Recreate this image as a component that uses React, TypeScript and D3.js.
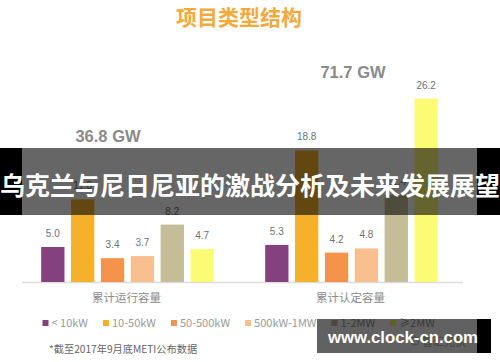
import React, { useEffect, useRef } from "react";
import * as d3 from "d3";

const groups = ["累计运行容量", "累计认定容量"];
const groupTotals = ["36.8 GW", "71.7 GW"];
const seriesNames = ["< 10kW", "10-50kW", "50-500kW", "500kW-1MW", "1-2MW", "≥2MW"];
const seriesColors = ["#85417f", "#f6b12c", "#f6934a", "#f8c08f", "#c4bd98", "#fcfb74"];
const runningValues = [5.0, 11.8, 3.4, 3.7, 8.2, 4.7];
const certifiedValues = [5.3, 18.8, 4.2, 4.8, 12.4, 26.2];
const titleText = "项目类型结构";
const bannerText = "乌克兰与尼日尼亚的激战分析及未来发展展望";
const footnoteText = "*截至2017年9月底METI公布数据";
const watermarkText = "www.clock-cn.com";
const watermarkSub = "智汇光伏";

const W = 500;
const H = 362;
const CJK = "'Noto Sans CJK SC', 'Noto Sans', sans-serif";
const LAT = "'Liberation Sans', Arial, 'Noto Sans CJK SC', sans-serif";

export default function App() {
  const ref = useRef<SVGSVGElement | null>(null);

  useEffect(() => {
    const svg = d3.select(ref.current);
    svg.selectAll("*").remove();

    svg.append("rect").attr("width", W).attr("height", H).attr("fill", "#ffffff");

    // title
    svg.append("text")
      .attr("x", 239).attr("y", 24.5)
      .attr("text-anchor", "middle")
      .attr("font-family", CJK).attr("font-weight", 700).attr("font-size", 21)
      .attr("fill", "#f2aa3c")
      .text(titleText);

    const baseY = 282;
    const y = d3.scaleLinear().domain([0, 30]).range([baseY, baseY - 210]);
    const x0 = d3.scaleBand<string>().domain(groups).range([15.5, 463.5]).paddingInner(0.2).paddingOuter(0.1);
    const x1 = d3.scaleBand<string>().domain(seriesNames).range([0, x0.bandwidth()]).paddingInner(0.22).paddingOuter(0.11);

    const allValues = [runningValues, certifiedValues];

    // axis line
    svg.append("line")
      .attr("x1", 22).attr("x2", 463).attr("y1", baseY + 0.5).attr("y2", baseY + 0.5)
      .attr("stroke", "#dcdcdc").attr("stroke-width", 1.5);

    groups.forEach((g, gi) => {
      const gx = x0(g)!;
      const grp = svg.append("g").attr("transform", `translate(${gx},0)`);
      seriesNames.forEach((s, si) => {
        const v = allValues[gi][si];
        grp.append("rect")
          .attr("x", x1(s)!).attr("width", x1.bandwidth())
          .attr("y", y(v)).attr("height", baseY - y(v))
          .attr("fill", seriesColors[si]);
        grp.append("text")
          .attr("x", x1(s)! + x1.bandwidth() / 2).attr("y", y(v) - 10)
          .attr("text-anchor", "middle")
          .attr("font-family", LAT).attr("font-size", 10)
          .attr("fill", "#707070")
          .text(v.toFixed(1));
      });
      svg.append("text")
        .attr("x", gx + x0.bandwidth() / 2 - 1).attr("y", 302)
        .attr("text-anchor", "middle")
        .attr("font-family", CJK).attr("font-size", 11.5)
        .attr("fill", "#8c8c8c")
        .text(g);
    });

    // group totals
    svg.append("text")
      .attr("x", 108).attr("y", 141.5)
      .attr("text-anchor", "middle")
      .attr("font-family", LAT).attr("font-weight", 700).attr("font-size", 16.5)
      .attr("fill", "#8a8a8a")
      .text(groupTotals[0]);
    svg.append("text")
      .attr("x", 353).attr("y", 77.5)
      .attr("text-anchor", "middle")
      .attr("font-family", LAT).attr("font-weight", 700).attr("font-size", 16.5)
      .attr("fill", "#8a8a8a")
      .text(groupTotals[1]);

    // legend
    const legend = svg.append("g");
    let lx = 42.5;
    seriesNames.forEach((s, si) => {
      legend.append("rect")
        .attr("x", lx).attr("y", 320).attr("width", 6).attr("height", 6)
        .attr("fill", seriesColors[si]);
      const t = legend.append("text")
        .attr("x", lx + 9).attr("y", 327)
        .attr("font-family", CJK).attr("font-size", 11)
        .attr("fill", "#9a9a9a")
        .text(s);
      const tw = (t.node() as SVGTextElement).getComputedTextLength();
      lx = lx + 9 + tw + 15;
    });

    // footnote
    svg.append("text")
      .attr("x", 49).attr("y", 353)
      .attr("font-family", CJK).attr("font-size", 10.2)
      .attr("fill", "#666666")
      .text(footnoteText);

    // faint account mark under watermark
    svg.append("circle").attr("cx", 415).attr("cy", 341).attr("r", 4)
      .attr("fill", "none").attr("stroke", "#bbbbbb").attr("stroke-width", 1);
    svg.append("text")
      .attr("x", 422).attr("y", 346)
      .attr("font-family", CJK).attr("font-size", 11)
      .attr("fill", "#b0b0b0")
      .text(watermarkSub);

    // banner overlay
    svg.append("rect").attr("x", 0).attr("y", 148).attr("width", 22).attr("height", 67).attr("fill", "#000");
    svg.append("rect").attr("x", 477).attr("y", 148).attr("width", 23).attr("height", 67).attr("fill", "#000");
    svg.append("rect").attr("x", 22).attr("y", 148).attr("width", 455).attr("height", 67)
      .attr("fill", "#000").attr("fill-opacity", 0.6);
    svg.append("text")
      .attr("x", 250).attr("y", 194.5)
      .attr("text-anchor", "middle")
      .attr("font-family", CJK).attr("font-weight", 700).attr("font-size", 25)
      .attr("textLength", 500).attr("lengthAdjust", "spacingAndGlyphs")
      .attr("fill", "#ffffff")
      .text(bannerText);

    // watermark
    svg.append("rect").attr("x", 317).attr("y", 319).attr("width", 160).attr("height", 34)
      .attr("fill", "#000").attr("fill-opacity", 0.62);
    svg.append("rect").attr("x", 477).attr("y", 319).attr("width", 14).attr("height", 34).attr("fill", "#000");
    svg.append("text")
      .attr("x", 403).attr("y", 342.5)
      .attr("text-anchor", "middle")
      .attr("font-family", LAT).attr("font-weight", 700).attr("font-size", 17)
      .attr("textLength", 150).attr("lengthAdjust", "spacingAndGlyphs")
      .attr("fill", "#ffffff")
      .text(watermarkText);
  }, []);

  return (
    <svg
      ref={ref}
      width={W}
      height={H}
      style={{ position: "absolute", left: 0, top: 0, display: "block" }}
    />
  );
}
